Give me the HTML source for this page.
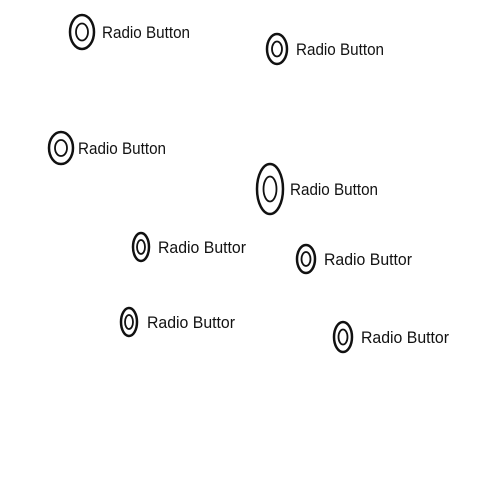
<!DOCTYPE html>
<html><head><meta charset="utf-8"><style>
html,body{margin:0;padding:0;background:#fff;width:480px;height:480px;overflow:hidden}
text{font-family:"Liberation Sans",sans-serif;font-size:17px;fill:#111}
</style></head><body>
<svg width="480" height="480">
<g id="g"></g>
</svg>
<script>
const cx=[82,277,61,270,141,306,129,343];
const cy=[32,49,148,189,247,259,322,337];
const rx=[12,10,12,13,8,9,8,9];
const ry=[17,15,16,25,14,14,14,15];
const labels=["Radio Button","Radio Button","Radio Button","Radio Button","Radio Buttor","Radio Buttor","Radio Buttor","Radio Buttor"];
const tx=[102,296,78,290,158,324,147,361];
const g=document.getElementById('g');
const ns='http://www.w3.org/2000/svg';
for(let i=0;i<cx.length;i++){
  const grp=document.createElementNS(ns,'g');
  
  
  const o=document.createElementNS(ns,'ellipse');
  o.setAttribute('cx',cx[i]);o.setAttribute('cy',cy[i]);o.setAttribute('rx',rx[i]);o.setAttribute('ry',ry[i]);
  o.setAttribute('fill','none');o.setAttribute('stroke','#111');o.setAttribute('stroke-width','2.5');
  
  
  grp.appendChild(o);
  const n=document.createElementNS(ns,'ellipse');
  n.setAttribute('cx',cx[i]);n.setAttribute('cy',cy[i]);n.setAttribute('rx',rx[i]*0.5);n.setAttribute('ry',ry[i]*0.5);
  n.setAttribute('fill','none');n.setAttribute('stroke','#111');n.setAttribute('stroke-width','1.8');
  
  
  grp.appendChild(n);
  const t=document.createElementNS(ns,'text');
  t.setAttribute('x',tx[i]);t.setAttribute('y',cy[i]+6);
  t.setAttribute('textLength','88');t.setAttribute('lengthAdjust','spacingAndGlyphs');
  t.textContent=labels[i];
  
  
  grp.appendChild(t);
  g.appendChild(grp);
}
</script>
</body></html>
